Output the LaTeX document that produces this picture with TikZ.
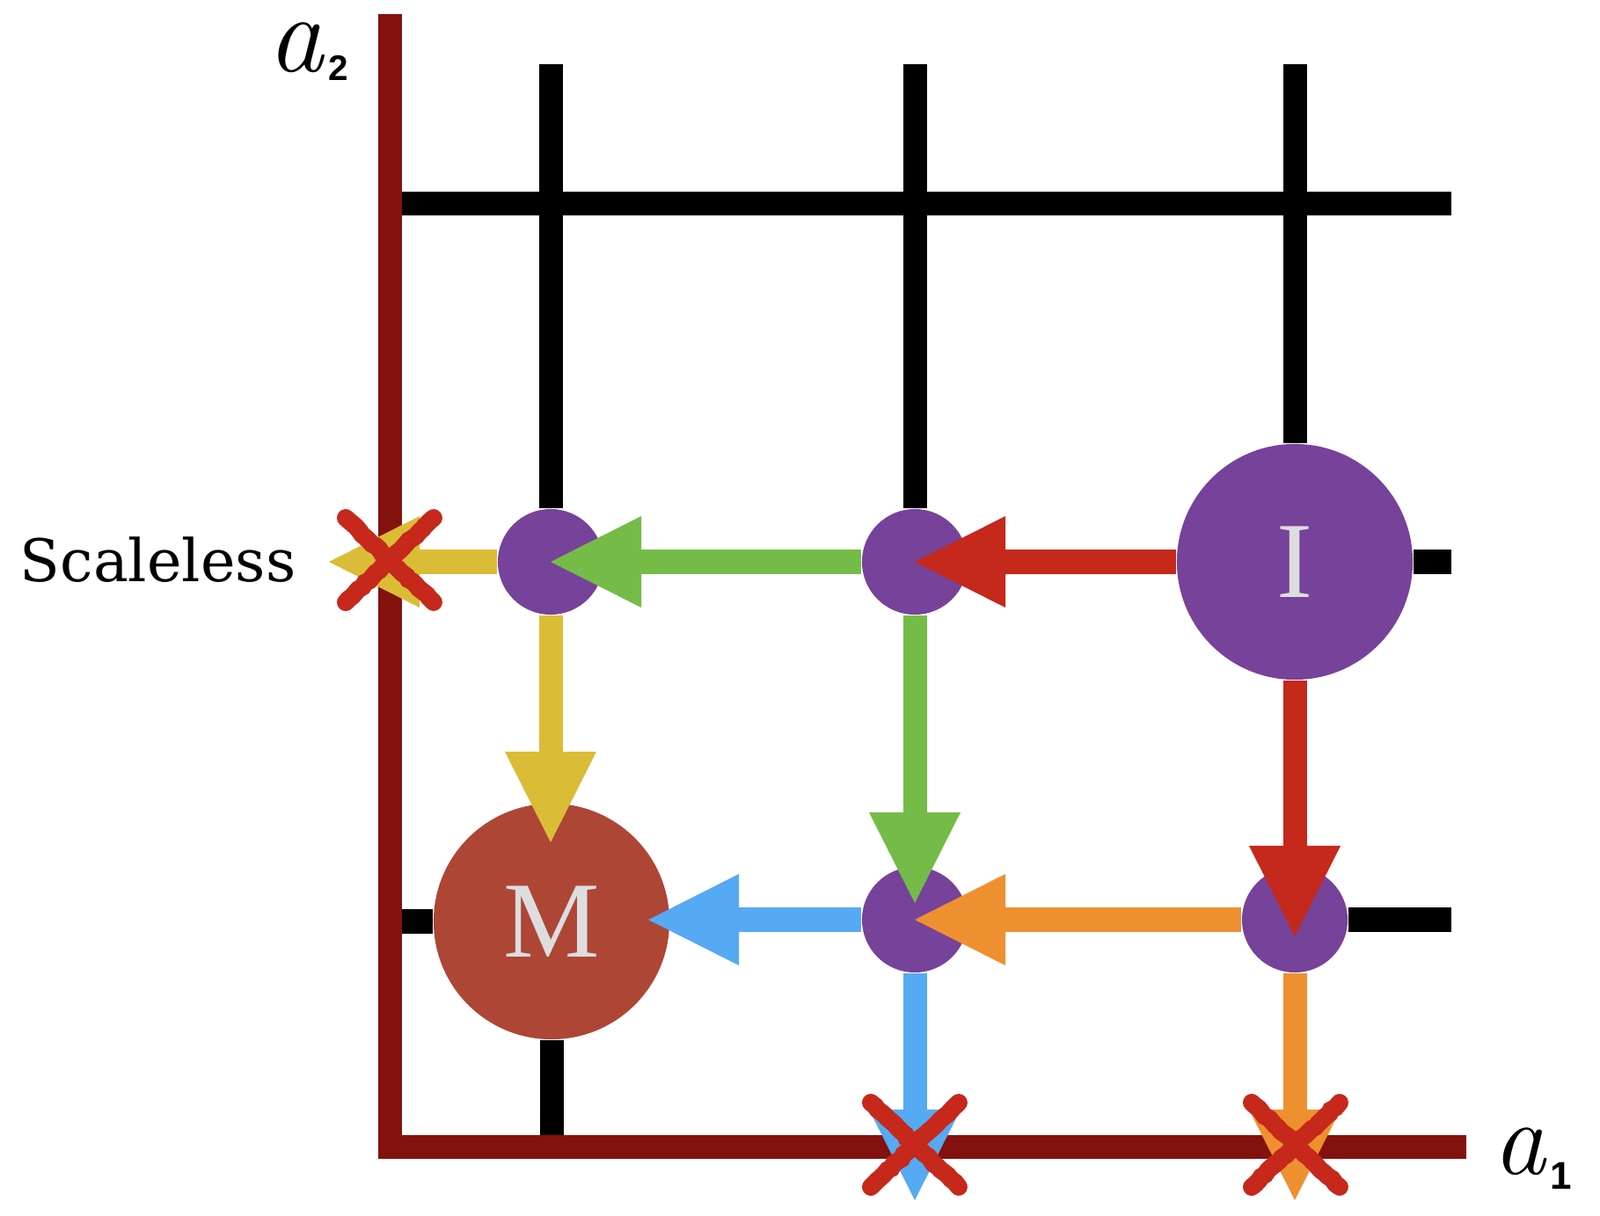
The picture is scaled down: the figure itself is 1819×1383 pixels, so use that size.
\documentclass[tikz,border=0pt]{standalone}
\usepackage{fontspec}
\newfontfamily\labelsans{Liberation Sans}
\newfontfamily\labelserif{DejaVu Serif}
\newfontfamily\letterserif{Liberation Serif}
\usepackage{tikz}
\usetikzlibrary{arrows.meta, backgrounds, decorations.pathmorphing}
\usepackage{xcolor}
\definecolor{nodepurple}{RGB}{119,66,153}
\definecolor{mergered}{RGB}{174,70,54}
\definecolor{axisred}{RGB}{131,18,14}
\definecolor{crossred}{RGB}{198,40,28}
\definecolor{lettergray}{RGB}{221,221,223}
\definecolor{flowred}{RGB}{196,41,28}
\definecolor{flowgreen}{RGB}{116,188,71}
\definecolor{flowyellow}{RGB}{219,188,55}
\definecolor{floworange}{RGB}{239,144,48}
\definecolor{flowblue}{RGB}{86,169,243}
\tikzstyle{state}    = [circle, fill=nodepurple, minimum size=1.2cm, inner sep=0pt]
\tikzstyle{bigstate} = [circle, minimum size=2.68cm, inner sep=0pt, text=lettergray,
                        font=\letterserif\fontsize{35}{40}\selectfont]
\tikzstyle{gridline} = [line width=0.27cm, black]
\tikzstyle{axis}     = [line width=0.27cm, axisred, line join=miter]
\tikzstyle{flow}     = [line width=0.27cm,
                        -{Triangle[length=1.03cm, width=1.04cm, line width'=0pt]}]
\tikzstyle{strike}   = [line width=0.2cm, crossred, line cap=round, decorate,
                        decoration={random steps, segment length=1.5pt, amplitude=0.3pt}]

\begin{document}
\begin{tikzpicture}[x=0.01cm, y=-0.01cm]
  \useasboundingbox (0,0) rectangle (1819,1383);

  % states
  \node (s1)    [state] at (626,639) {};
  \node (s2)    [state] at (1040,639) {};
  \node (init)  [bigstate, fill=nodepurple] at (1472,639) {I};
  \node (merge) [bigstate, fill=mergered] at (627,1048) {M};
  \node (s3)    [state] at (1040,1046) {};
  \node (s4)    [state] at (1472,1046) {};

  % free arrow ends
  \coordinate (tipscale)  at (374,639);
  \coordinate (tipmerge)  at (626,958);
  \coordinate (tipgreen)  at (1040,1027);
  \coordinate (tipred)    at (1472,1065);
  \coordinate (tipblue)   at (737,1046);
  \coordinate (tipdown)   at (1040,1365);
  \coordinate (tiporange) at (1472,1365);

  % grid and axes behind everything
  \begin{scope}[on background layer]
    \draw[gridline] (626,73) -- (s1);
    \draw[gridline] (1040,73) -- (s2);
    \draw[gridline] (1472,73) -- (init);
    \draw[gridline] (443,232) -- (1650,232);
    \draw[gridline] (init) -- (1650,639);
    \draw[gridline] (443,1048) -- (merge);
    \draw[gridline] (s4) -- (1650,1046);
    \draw[gridline] (merge) -- (627,1304);
    \draw[axis] (443,16) -- (443,1304) -- (1667,1304);
  \end{scope}

  % labels
  \node (a2) [anchor=base west, inner sep=0pt] at (304,82)
        {\fontsize{36}{36}\selectfont\itshape a\kern1.5pt\raisebox{-0.1cm}{\upshape\labelsans\bfseries\fontsize{11.5}{12}\selectfont 2}};
  \node (a1) [anchor=base west, inner sep=0pt] at (1697,1335)
        {\fontsize{34}{34}\selectfont\itshape a\kern1.5pt\raisebox{-0.17cm}{\upshape\labelsans\bfseries\fontsize{12.5}{13}\selectfont 1}};
  \node (scaleless) [anchor=base east, inner sep=0pt] at (337,662)
        {\labelserif\fontsize{19}{22}\selectfont Scaleless};

  % flows
  \draw[flow, flowred]    (init) -- (s2.center);
  \draw[flow, flowgreen]  (s2)   -- (s1.center);
  \draw[flow, flowyellow] (s1)   -- (tipscale);
  \draw[flow, flowyellow] (s1)   -- (tipmerge);
  \draw[flow, floworange] (s4)   -- (s3.center);
  \draw[flow, flowgreen]  (s2)   -- (tipgreen);
  \draw[flow, flowred]    (init) -- (tipred);
  \draw[flow, flowblue]   (s3)   -- (tipblue);
  \draw[flow, flowblue]   (s3)   -- (tipdown);
  \draw[flow, floworange] (s4)   -- (tiporange);

  % crossed-out flows
  \coordinate (x1) at (443,637);
  \coordinate (x2) at (1040,1302);
  \coordinate (x3) at (1473,1302);
  \foreach \c in {x1,x2,x3} {
    \draw[strike] ([shift={(-50,-48)}]\c) -- ([shift={(50,48)}]\c);
    \draw[strike] ([shift={(-50,48)}]\c) -- ([shift={(50,-48)}]\c);
  }
\end{tikzpicture}
\end{document}
